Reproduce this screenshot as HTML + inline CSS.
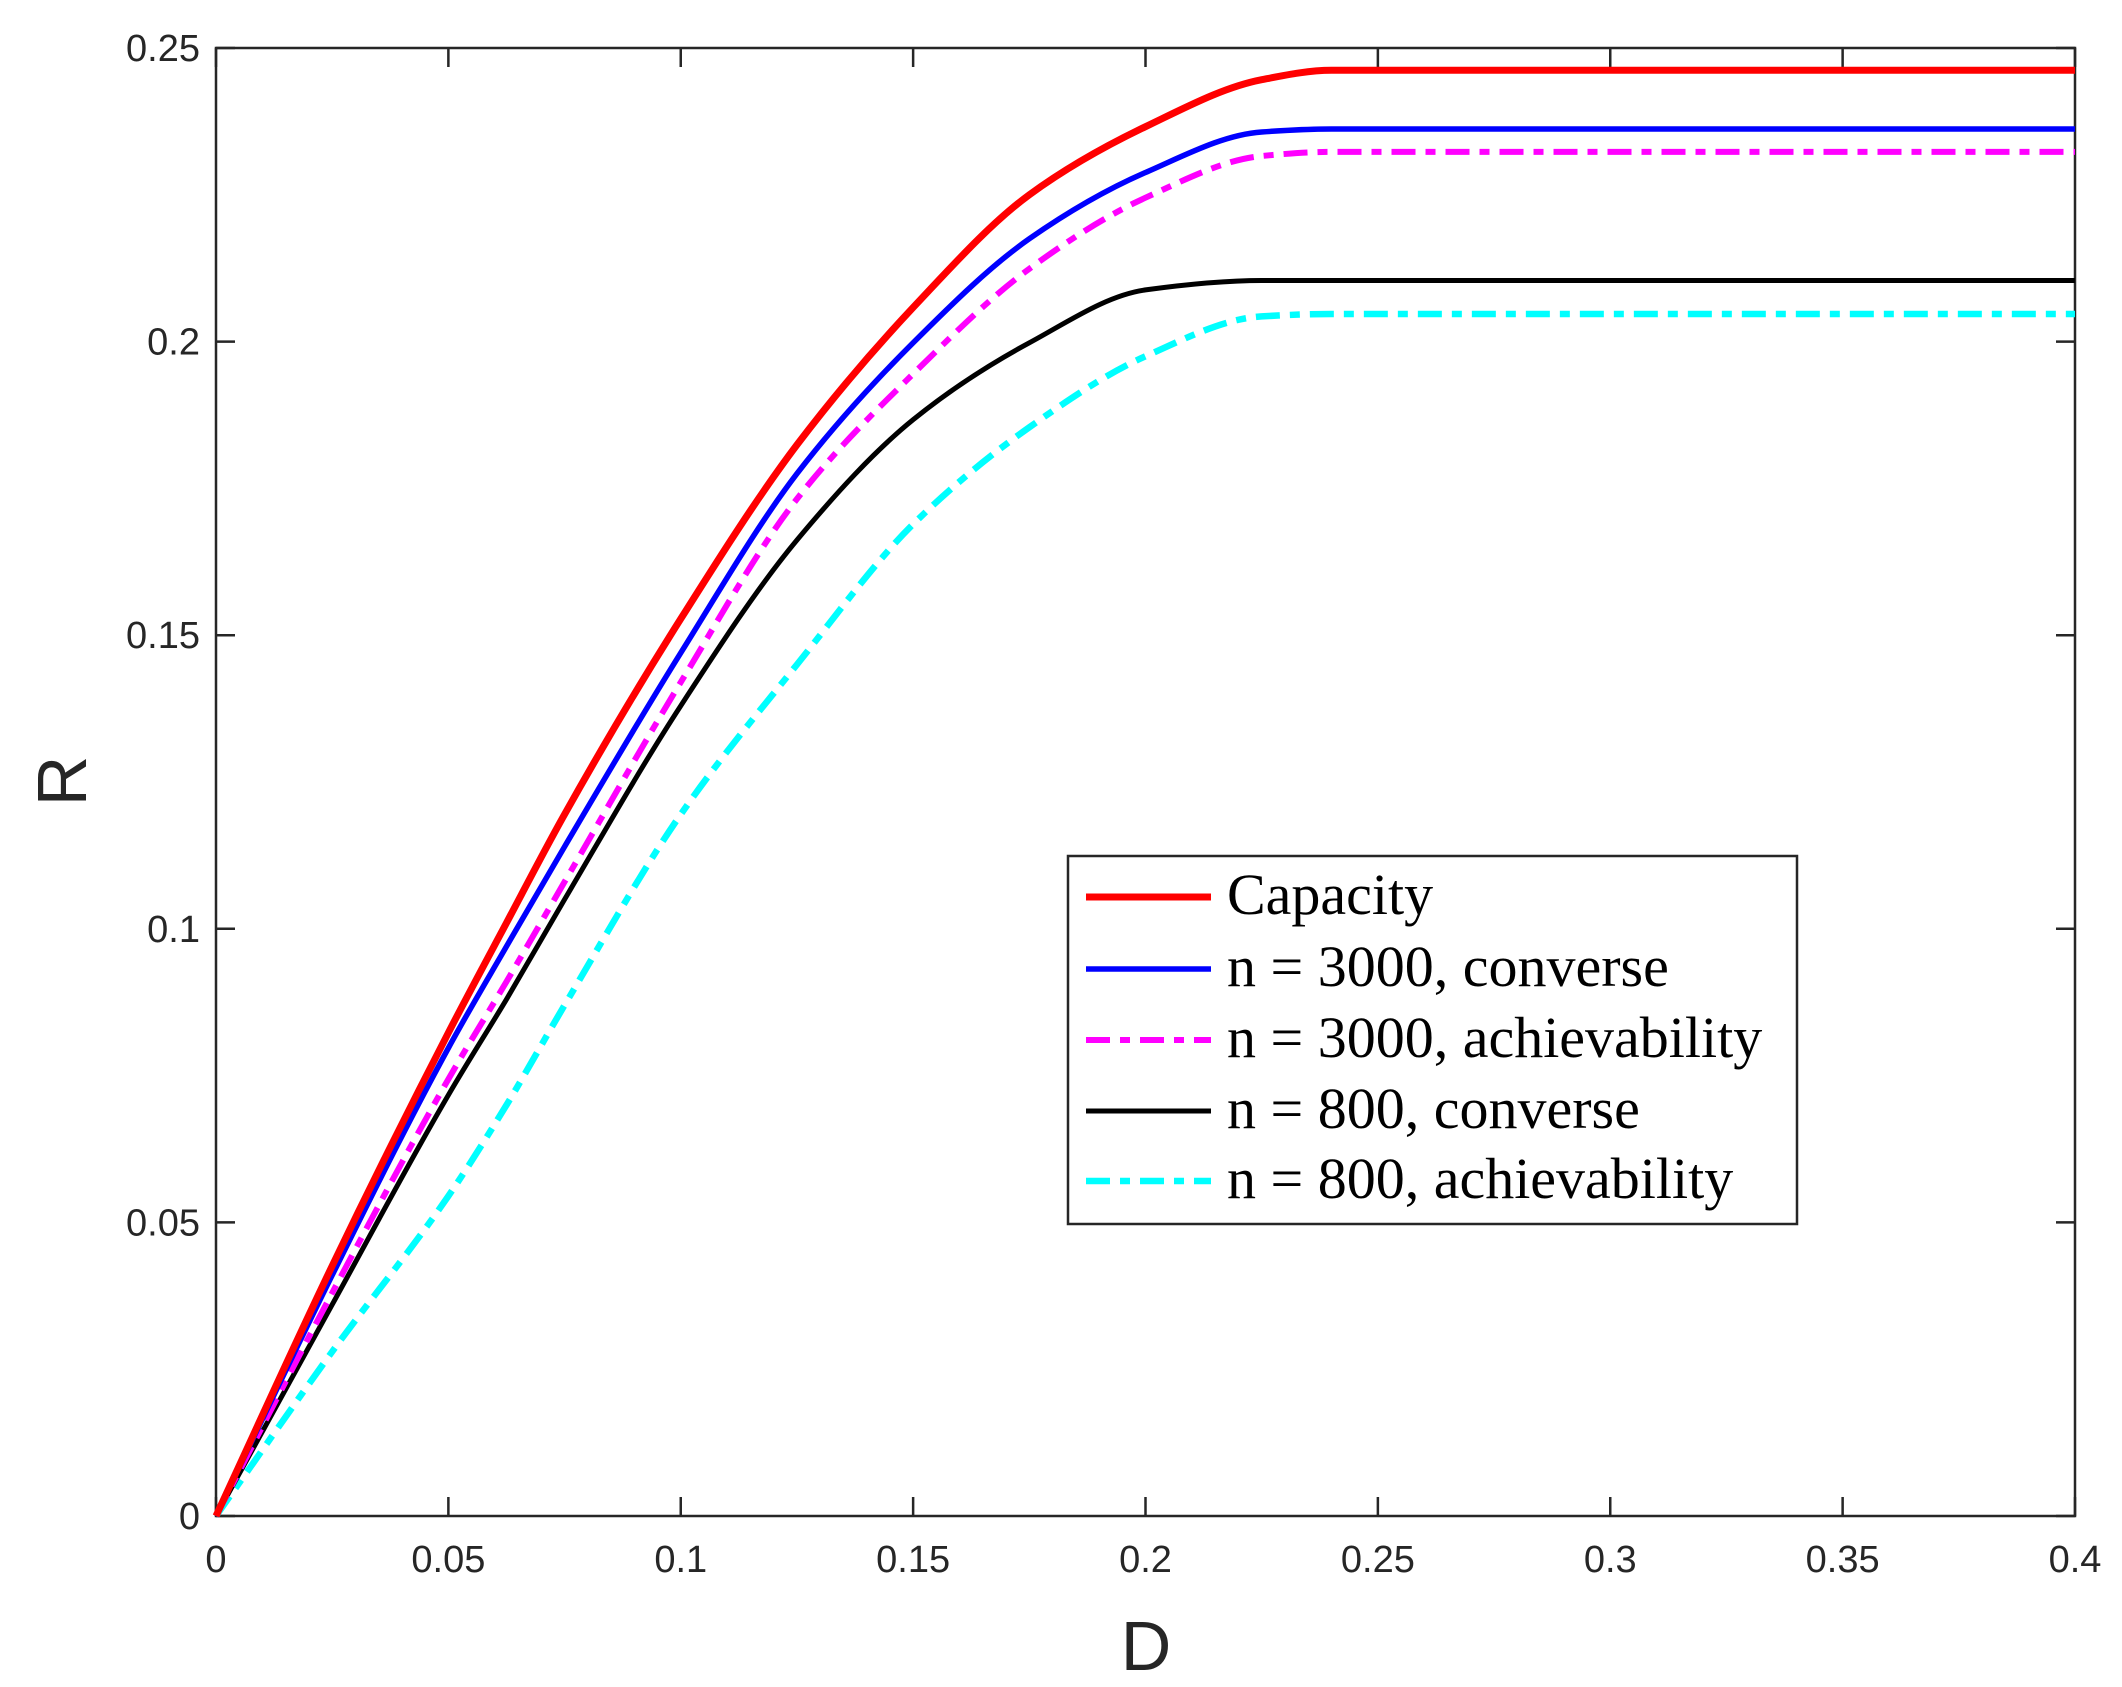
<!DOCTYPE html>
<html><head><meta charset="utf-8"><style>body{margin:0;background:#fff}svg{display:block}</style></head>
<body>
<svg id="chart" width="2122" height="1687" viewBox="0 0 2122 1687" xmlns="http://www.w3.org/2000/svg">
<rect width="2122" height="1687" fill="#fff"/>
<g id="axes"></g>
<g id="series"></g>
<text x="1146" y="1670" font-family="Liberation Sans, sans-serif" font-size="70" text-anchor="middle" fill="#262626">D</text>
<text transform="translate(86,781) rotate(-90)" font-family="Liberation Sans, sans-serif" font-size="70" text-anchor="middle" fill="#262626">R</text>
<g id="legend"></g>
</svg>
<script>
const xData = [0,0.025,0.05,0.0625,0.075,0.1,0.125,0.15,0.175,0.2,0.225,0.24,0.4];
const capacity = [0,0.0426,0.0823,0.101,0.1195,0.1528,0.1824,0.2058,0.225,0.2366,0.2446,0.2462,0.2462];
const conv3000 = [0,0.041,0.0797,0.097,0.114,0.147,0.1775,0.1998,0.2175,0.2288,0.2357,0.2362,0.2362];
const ach3000 = [0,0.038,0.0744,0.091,0.108,0.142,0.1732,0.1945,0.2124,0.2245,0.2316,0.2323,0.2323];
const conv800 = [0,0.036,0.0717,0.088,0.105,0.138,0.1662,0.1867,0.1998,0.2088,0.2104,0.2104,0.2104];
const ach800 = [0,0.028,0.0545,0.07,0.087,0.1195,0.145,0.1689,0.1854,0.1975,0.2043,0.2047,0.2047];
const xTicks = [0,0.05,0.1,0.15,0.2,0.25,0.3,0.35,0.4];
const xTickLabels = ["0","0.05","0.1","0.15","0.2","0.25","0.3","0.35","0.4"];
const yTicks = [0,0.05,0.1,0.15,0.2,0.25];
const yTickLabels = ["0","0.05","0.1","0.15","0.2","0.25"];
const seriesNames = ["Capacity","n = 3000, converse","n = 3000, achievability","n = 800, converse","n = 800, achievability"];

const L=216,R=2075,T=48,B=1516;
const sx=v=>L+(v/0.4)*(R-L);
const sy=v=>B-(v/0.25)*(B-T);
const NS="http://www.w3.org/2000/svg";
function mk(tag,attrs,parent){const e=document.createElementNS(NS,tag);for(const k in attrs)e.setAttribute(k,attrs[k]);parent.appendChild(e);return e;}
const axes=document.getElementById('axes');
const ser=document.getElementById('series');
const leg=document.getElementById('legend');
const font="Liberation Sans, sans-serif";
function monoPath(xs,ys){
  const n=xs.length,dx=[],m=[],t=new Array(n);
  for(let i=0;i<n-1;i++){dx[i]=xs[i+1]-xs[i];m[i]=(ys[i+1]-ys[i])/dx[i];}
  t[0]=m[0];t[n-1]=m[n-2];
  for(let i=1;i<n-1;i++){t[i]=(m[i-1]*m[i]<=0)?0:3*(dx[i-1]+dx[i])/((2*dx[i]+dx[i-1])/m[i-1]+(dx[i]+2*dx[i-1])/m[i]);}
  let d='M'+xs[0].toFixed(1)+','+ys[0].toFixed(1);
  for(let i=0;i<n-1;i++){const h=dx[i]/3;
    d+='C'+(xs[i]+h).toFixed(1)+','+(ys[i]+t[i]*h).toFixed(1)+' '+(xs[i+1]-h).toFixed(1)+','+(ys[i+1]-t[i+1]*h).toFixed(1)+' '+xs[i+1].toFixed(1)+','+ys[i+1].toFixed(1);}
  return d;
}
xTicks.forEach((t,i)=>{
  const x=sx(t);
  let l=mk('path',{d:`M${x},${B}V${B-19}M${x},${T}V${T+19}`,stroke:'#262626','stroke-width':2.5,fill:'none'},axes);
  
  
  let tx=mk('text',{x:x,y:B+56,'font-family':font,'font-size':38,'text-anchor':'middle',fill:'#262626'},axes);
  tx.textContent=xTickLabels[i];
  
  
});
yTicks.forEach((t,i)=>{
  const y=sy(t);
  let l=mk('path',{d:`M${L},${y}H${L+19}M${R},${y}H${R-19}`,stroke:'#262626','stroke-width':2.5,fill:'none'},axes);
  
  
  let tx=mk('text',{x:L-16,y:y+13,'font-family':font,'font-size':38,'text-anchor':'end',fill:'#262626'},axes);
  tx.textContent=yTickLabels[i];
  
  
});
const styles=[
 {data:capacity,color:'#ff0000',w:7,dash:null,name:'capacity-line'},
 {data:conv3000,color:'#0000ff',w:5.5,dash:null,name:'n3000-converse-line'},
 {data:ach3000,color:'#ff00ff',w:6,dash:'24 10 10 10',name:'n3000-achievability-line'},
 {data:conv800,color:'#000000',w:5,dash:null,name:'n800-converse-line'},
 {data:ach800,color:'#00ffff',w:6.5,dash:'24 10 10 10',name:'n800-achievability-line'}
];
styles.slice().reverse().forEach(s=>{
  const d=monoPath(xData.map(sx),s.data.map(sy));
  const a={d:d,stroke:s.color,'stroke-width':s.w,fill:'none','stroke-linejoin':'round'};
  if(s.dash)a['stroke-dasharray']=s.dash;
  const p=mk('path',a,ser);
  
  
});
mk('rect',{x:L,y:T,width:R-L,height:B-T,fill:'none',stroke:'#262626','stroke-width':2.5},axes);
let box=mk('rect',{x:1068,y:856,width:729,height:368,fill:'#fff',stroke:'#262626','stroke-width':2.5},leg);


const rowY=[897,969,1040,1111,1181];
styles.forEach((s,i)=>{
  const a={x1:1086,x2:1211,y1:rowY[i],y2:rowY[i],stroke:s.color,'stroke-width':s.w};
  if(s.dash)a['stroke-dasharray']=s.dash;
  const l=mk('line',a,leg);
  
  
  const t=mk('text',{x:1227,y:rowY[i]+17,'font-family':'Liberation Serif, serif','font-size':58,fill:'#000'},leg);
  t.textContent=seriesNames[i];
  
  
});
</script>
</body></html>
